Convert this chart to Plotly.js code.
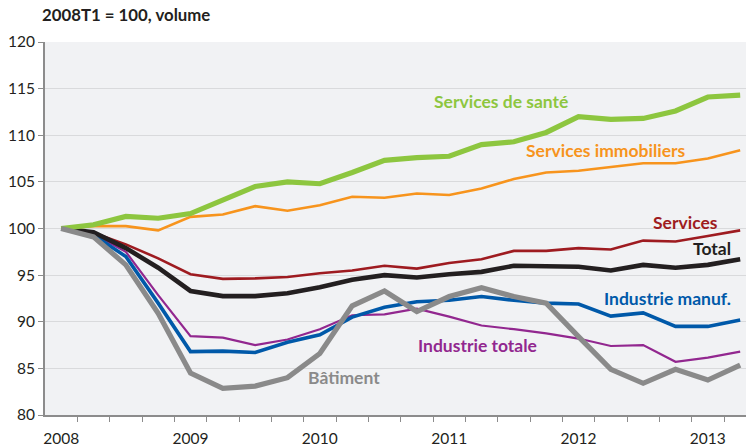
<!DOCTYPE html>
<html>
<head>
<meta charset="utf-8">
<script src="https://cdn.plot.ly/plotly-3.0.1.min.js"></script>
<style>html,body{margin:0;padding:0;background:#fff;}#chart{width:746px;height:446px;}</style>
</head>
<body>
<div id="chart"></div>
<script>
// Quarters 2008T1 .. 2013T2
const quarters = ["2008T1","2008T2","2008T3","2008T4","2009T1","2009T2","2009T3","2009T4","2010T1","2010T2","2010T3","2010T4","2011T1","2011T2","2011T3","2011T4","2012T1","2012T2","2012T3","2012T4","2013T1","2013T2"];
const yearLabels = ["2008","2009","2010","2011","2012","2013"];

const sante       = [100,100.4,101.3,101.1,101.6,103.1,104.5,105.0,104.8,106.0,107.3,107.6,107.75,109.0,109.3,110.3,112.0,111.7,111.8,112.6,114.1,114.3];
const immobiliers = [100,100.25,100.25,99.8,101.25,101.5,102.4,101.9,102.5,103.4,103.3,103.75,103.6,104.3,105.3,106.0,106.2,106.6,107.0,107.0,107.5,108.4];
const services    = [100,99.55,98.3,96.8,95.1,94.6,94.65,94.8,95.2,95.5,96.0,95.7,96.3,96.7,97.6,97.6,97.9,97.75,98.7,98.6,99.2,99.8];
const total       = [100,99.6,97.9,95.8,93.3,92.75,92.75,93.05,93.7,94.5,95.0,94.75,95.1,95.35,96.0,95.9,95.9,95.5,96.1,95.8,96.1,96.7];
const manuf       = [100,99.3,97.0,92.0,86.8,86.85,86.7,87.8,88.6,90.5,91.55,92.15,92.3,92.7,92.3,92.0,91.9,90.6,90.95,89.5,89.5,90.2];
const indTotale   = [100,99.4,97.5,92.85,88.45,88.3,87.5,88.1,89.2,90.7,90.8,91.4,90.55,89.6,89.2,88.75,88.2,87.4,87.5,85.7,86.15,86.8];
const batiment    = [100,99.1,96.1,90.9,84.5,82.85,83.1,84.0,86.6,91.7,93.3,91.1,92.7,93.65,92.7,92.0,88.4,84.9,83.4,84.9,83.75,85.35];

const seriesNames = ["Services de santé","Services immobiliers","Services","Total","Industrie manuf.","Industrie totale","Bâtiment"];

const idx = quarters.map((q,i)=>i);
const yearTickVals = yearLabels.map((y,i)=>i*4);
const quarterBoundaries = quarters.slice(0,-1).map((q,i)=>i+0.5);

function tr(y, name, color, width){
  return {x: idx, y: y, name: name, type:'scatter', mode:'lines',
          line:{color:color, width:width}, hoverinfo:'skip', showlegend:false};
}

const traces = [
  tr(indTotale, seriesNames[5], '#92278f', 2.2),
  tr(manuf, seriesNames[4], '#0059a9', 3.6),
  tr(services, seriesNames[2], '#9e1b20', 2.6),
  tr(immobiliers, seriesNames[1], '#f7941d', 2.6),
  tr(total, seriesNames[3], '#231f20', 4.6),
  tr(sante, seriesNames[0], '#8dc63f', 5.2),
  tr(batiment, seriesNames[6], '#8a8a8a', 5.2),
  {x: idx, y: total, xaxis:'x2', type:'scatter', mode:'lines', line:{width:0}, opacity:0, hoverinfo:'skip', showlegend:false}
];

const FONT = 'Lato, "Open Sans", sans-serif';
const xr = [-0.5, 21.18];

function lab(text, x, y, color){
  return {text:'<b>'+text+'</b>', x:x, y:y, xref:'x', yref:'y', showarrow:false,
          xanchor:'center', yanchor:'middle', font:{family:FONT, size:17.5, color:color}};
}

const layout = {
  width: 746, height: 446,
  margin: {l:45, r:0, t:42, b:31, pad:0},
  paper_bgcolor: '#ffffff',
  plot_bgcolor: '#f1f2f4',
  font: {family: FONT, size: 15, color: '#231f20'},
  title: {text:'<b>2008T1 = 100, volume</b>', xref:'container', yref:'container', x:42/746, xanchor:'left', y:1-15/446, yanchor:'middle', font:{family:FONT, size:16.8, color:'#231f20'}},
  xaxis: {
    range: xr, tickmode:'array', tickvals: yearTickVals, ticktext: yearLabels,
    ticks:'outside', ticklen:8, tickcolor:'rgba(0,0,0,0)',
    showgrid:false, zeroline:false, showline:true, linecolor:'#8c8c8c', linewidth:2,
    tickfont:{family:FONT, size:15.5, color:'#231f20'}
  },
  xaxis2: {
    range: xr, overlaying:'x', anchor:'y', side:'bottom', tickmode:'array', tickvals: quarterBoundaries,
    ticks:'outside', ticklen:6, tickwidth:1, tickcolor:'#8c8c8c', showticklabels:false,
    showgrid:false, zeroline:false, showline:false
  },
  yaxis: {
    range:[80,120], tickmode:'linear', tick0:80, dtick:5,
    ticks:'outside', ticklen:5, tickwidth:1, tickcolor:'#8c8c8c',
    showgrid:true, gridcolor:'#d9dadc', gridwidth:1, zeroline:false,
    showline:true, linecolor:'#8c8c8c', linewidth:2,
    tickfont:{family:FONT, size:15.5, color:'#231f20'}
  },
  annotations: [
    lab(seriesNames[0], 13.61, 113.65, '#8dc63f'),
    lab(seriesNames[1], 16.86, 108.33, '#f7941d'),
    lab(seriesNames[2], 19.3, 100.65, '#9e1b20'),
    lab(seriesNames[3], 20.13, 97.87, '#231f20'),
    lab(seriesNames[4], 18.74, 92.5, '#0059a9'),
    lab(seriesNames[5], 12.87, 87.5, '#92278f'),
    lab(seriesNames[6], 8.76, 84.07, '#8a8a8a')
  ],
  showlegend:false
};

Plotly.newPlot('chart', traces, layout, {displayModeBar:false, staticPlot:true});
</script>
</body>
</html>
